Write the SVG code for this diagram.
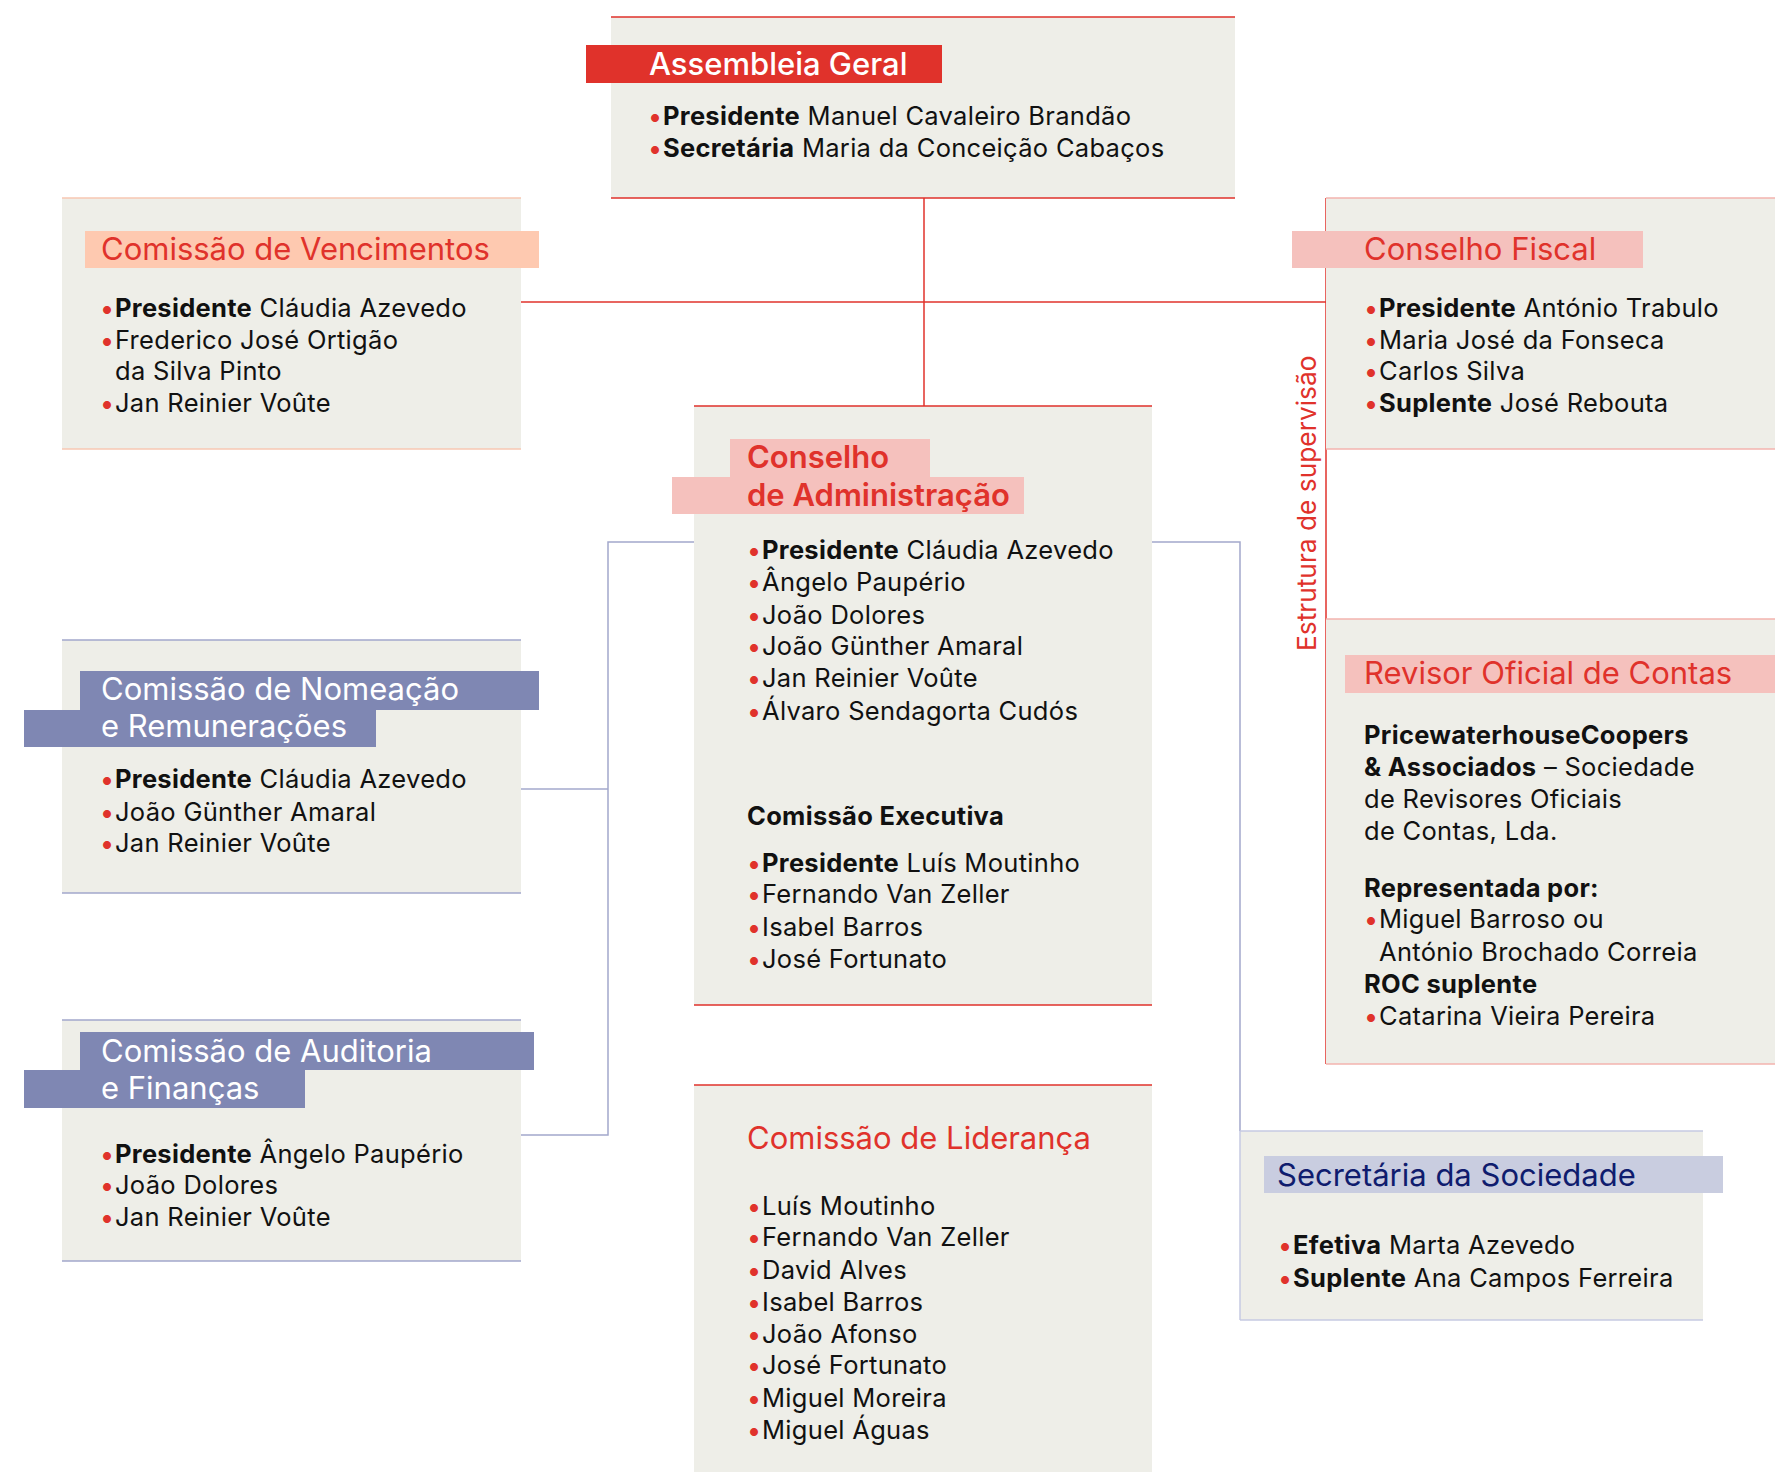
<svg xmlns="http://www.w3.org/2000/svg" width="1775" height="1472" viewBox="0 0 1775 1472">
<style>
text{font-family:Inter,"Liberation Sans",sans-serif;fill:#111;}
.body{font-size:25.5px;letter-spacing:0.3px;}
.title{font-size:31px;}
.b{font-weight:700;}
.dot{fill:#e0322b;font-weight:700;letter-spacing:0;}
.box{fill:#eeeee8;}
.red{fill:#e0322b;}
.white{fill:#fff;}
.navy{fill:#0f1c6e;}
.lr{stroke:#e0322b;stroke-width:1.5;fill:none;}
.lp{stroke:#f3b4ae;stroke-width:1.5;fill:none;}
.lo{stroke:#f8c7b3;stroke-width:1.5;fill:none;}
.lv{stroke:#a3a8cc;stroke-width:1.5;fill:none;}
.lvl{stroke:#c6cae2;stroke-width:1.5;fill:none;}
</style>
<rect width="1775" height="1472" fill="#fff"/>

<g id="connectors">
<path class="lr" d="M924 198V406"/>
<path class="lr" d="M521 302H1326"/>
<path class="lr" d="M1326 198V1064"/>
<path class="lv" d="M694 542H608V1135H521"/>
<path class="lv" d="M608 789H521"/>
<path class="lv" d="M1152 542H1240V1131"/>
</g>

<g id="assembleia-geral">
<rect class="box" x="611" y="17" width="624" height="181"/>
<path class="lr" d="M611 17H1235M611 198H1235"/>
<rect x="586" y="45" width="356" height="38" fill="#e0322b"/>
<text class="title white" x="649" y="75" font-weight="500">Assembleia Geral</text>
<text class="body" y="125"><tspan class="dot" x="649">•</tspan><tspan x="663" class="b">Presidente</tspan> Manuel Cavaleiro Brandão</text>
<text class="body" y="157"><tspan class="dot" x="649">•</tspan><tspan x="663" class="b">Secretária</tspan> Maria da Conceição Cabaços</text>
</g>

<g id="comissao-vencimentos">
<rect class="box" x="62" y="198" width="459" height="251"/>
<path class="lo" d="M62 198H521M62 449H521"/>
<rect x="85" y="231" width="454" height="37" fill="#fec9b0"/>
<text class="title red" x="101" y="260">Comissão de Vencimentos</text>
<text class="body" y="317"><tspan class="dot" x="101">•</tspan><tspan x="115" class="b">Presidente</tspan> Cláudia Azevedo</text>
<text class="body" y="349"><tspan class="dot" x="101">•</tspan><tspan x="115">Frederico José Ortigão</tspan></text>
<text class="body" x="115" y="380">da Silva Pinto</text>
<text class="body" y="412"><tspan class="dot" x="101">•</tspan><tspan x="115">Jan Reinier Voûte</tspan></text>
</g>

<g id="conselho-fiscal">
<rect class="box" x="1326" y="198" width="449" height="251"/>
<path class="lp" d="M1326 198H1775M1326 449H1775"/>
<rect x="1292" y="231" width="351" height="37" fill="#f5c1bd"/>
<text class="title red" x="1364" y="260">Conselho Fiscal</text>
<text class="body" y="317"><tspan class="dot" x="1365">•</tspan><tspan x="1379" class="b">Presidente</tspan> António Trabulo</text>
<text class="body" y="349"><tspan class="dot" x="1365">•</tspan><tspan x="1379">Maria José da Fonseca</tspan></text>
<text class="body" y="380"><tspan class="dot" x="1365">•</tspan><tspan x="1379">Carlos Silva</tspan></text>
<text class="body" y="412"><tspan class="dot" x="1365">•</tspan><tspan x="1379" class="b">Suplente</tspan> José Rebouta</text>
</g>

<g id="estrutura-supervisao">
<text class="red" font-size="26.3" transform="translate(1316 651) rotate(-90)">Estrutura de supervisão</text>
</g>

<g id="revisor-oficial-contas">
<rect class="box" x="1326" y="619" width="449" height="445"/>
<path class="lp" d="M1326 619H1775M1326 1064H1775"/>
<rect x="1345" y="655" width="430" height="38" fill="#f5c1bd"/>
<text class="title red" x="1364" y="684">Revisor Oficial de Contas</text>
<text class="body b" x="1364" y="744">PricewaterhouseCoopers</text>
<text class="body" x="1364" y="776"><tspan class="b">&amp; Associados</tspan> – Sociedade</text>
<text class="body" x="1364" y="808">de Revisores Oficiais</text>
<text class="body" x="1364" y="840">de Contas, Lda.</text>
<text class="body b" x="1364" y="897">Representada por:</text>
<text class="body" y="928"><tspan class="dot" x="1365">•</tspan><tspan x="1379">Miguel Barroso ou</tspan></text>
<text class="body" x="1379" y="961">António Brochado Correia</text>
<text class="body b" x="1364" y="993">ROC suplente</text>
<text class="body" y="1025"><tspan class="dot" x="1365">•</tspan><tspan x="1379">Catarina Vieira Pereira</tspan></text>
</g>

<g id="conselho-administracao">
<rect class="box" x="694" y="406" width="458" height="599"/>
<path class="lr" d="M694 406H1152M694 1005H1152"/>
<rect x="730" y="439" width="200" height="39" fill="#f5c1bd"/>
<rect x="672" y="477" width="352" height="37" fill="#f5c1bd"/>
<text class="title red" x="747" y="468" font-weight="600">Conselho</text>
<text class="title red" x="747" y="506" font-weight="600">de Administração</text>
<text class="body" y="559"><tspan class="dot" x="748">•</tspan><tspan x="762" class="b">Presidente</tspan> Cláudia Azevedo</text>
<text class="body" y="591"><tspan class="dot" x="748">•</tspan><tspan x="762">Ângelo Paupério</tspan></text>
<text class="body" y="624"><tspan class="dot" x="748">•</tspan><tspan x="762">João Dolores</tspan></text>
<text class="body" y="655"><tspan class="dot" x="748">•</tspan><tspan x="762">João Günther Amaral</tspan></text>
<text class="body" y="687"><tspan class="dot" x="748">•</tspan><tspan x="762">Jan Reinier Voûte</tspan></text>
<text class="body" y="720"><tspan class="dot" x="748">•</tspan><tspan x="762">Álvaro Sendagorta Cudós</tspan></text>
<text class="body b" x="747" y="825">Comissão Executiva</text>
<text class="body" y="872"><tspan class="dot" x="748">•</tspan><tspan x="762" class="b">Presidente</tspan> Luís Moutinho</text>
<text class="body" y="903"><tspan class="dot" x="748">•</tspan><tspan x="762">Fernando Van Zeller</tspan></text>
<text class="body" y="936"><tspan class="dot" x="748">•</tspan><tspan x="762">Isabel Barros</tspan></text>
<text class="body" y="968"><tspan class="dot" x="748">•</tspan><tspan x="762">José Fortunato</tspan></text>
</g>

<g id="comissao-lideranca">
<rect class="box" x="694" y="1085" width="458" height="387"/>
<path class="lr" d="M694 1085H1152"/>
<text class="title red" x="747" y="1149">Comissão de Liderança</text>
<text class="body" y="1215"><tspan class="dot" x="748">•</tspan><tspan x="762">Luís Moutinho</tspan></text>
<text class="body" y="1246"><tspan class="dot" x="748">•</tspan><tspan x="762">Fernando Van Zeller</tspan></text>
<text class="body" y="1279"><tspan class="dot" x="748">•</tspan><tspan x="762">David Alves</tspan></text>
<text class="body" y="1311"><tspan class="dot" x="748">•</tspan><tspan x="762">Isabel Barros</tspan></text>
<text class="body" y="1343"><tspan class="dot" x="748">•</tspan><tspan x="762">João Afonso</tspan></text>
<text class="body" y="1374"><tspan class="dot" x="748">•</tspan><tspan x="762">José Fortunato</tspan></text>
<text class="body" y="1407"><tspan class="dot" x="748">•</tspan><tspan x="762">Miguel Moreira</tspan></text>
<text class="body" y="1439"><tspan class="dot" x="748">•</tspan><tspan x="762">Miguel Águas</tspan></text>
</g>

<g id="comissao-nomeacao">
<rect class="box" x="62" y="640" width="459" height="253"/>
<path class="lv" d="M62 640H521M62 893H521"/>
<rect x="80" y="671" width="459" height="39" fill="#7f87b3"/>
<rect x="24" y="710" width="352" height="37" fill="#7f87b3"/>
<text class="title white" x="101" y="700">Comissão de Nomeação</text>
<text class="title white" x="101" y="737">e Remunerações</text>
<text class="body" y="788"><tspan class="dot" x="101">•</tspan><tspan x="115" class="b">Presidente</tspan> Cláudia Azevedo</text>
<text class="body" y="821"><tspan class="dot" x="101">•</tspan><tspan x="115">João Günther Amaral</tspan></text>
<text class="body" y="852"><tspan class="dot" x="101">•</tspan><tspan x="115">Jan Reinier Voûte</tspan></text>
</g>

<g id="comissao-auditoria">
<rect class="box" x="62" y="1020" width="459" height="241"/>
<path class="lv" d="M62 1020H521M62 1261H521"/>
<rect x="80" y="1032" width="454" height="38" fill="#7f87b3"/>
<rect x="24" y="1070" width="281" height="38" fill="#7f87b3"/>
<text class="title white" x="101" y="1062">Comissão de Auditoria</text>
<text class="title white" x="101" y="1099">e Finanças</text>
<text class="body" y="1163"><tspan class="dot" x="101">•</tspan><tspan x="115" class="b">Presidente</tspan> Ângelo Paupério</text>
<text class="body" y="1194"><tspan class="dot" x="101">•</tspan><tspan x="115">João Dolores</tspan></text>
<text class="body" y="1226"><tspan class="dot" x="101">•</tspan><tspan x="115">Jan Reinier Voûte</tspan></text>
</g>

<g id="secretaria-sociedade">
<rect class="box" x="1240" y="1131" width="463" height="189"/>
<path class="lvl" d="M1240 1131H1703M1240 1320H1703M1240 1131V1320"/>
<rect x="1264" y="1156" width="459" height="37" fill="#c9cde0"/>
<text class="title navy" x="1277" y="1186">Secretária da Sociedade</text>
<text class="body" y="1254"><tspan class="dot" x="1279">•</tspan><tspan x="1293" class="b">Efetiva</tspan> Marta Azevedo</text>
<text class="body" y="1287"><tspan class="dot" x="1279">•</tspan><tspan x="1293" class="b">Suplente</tspan> Ana Campos Ferreira</text>
</g>
</svg>
